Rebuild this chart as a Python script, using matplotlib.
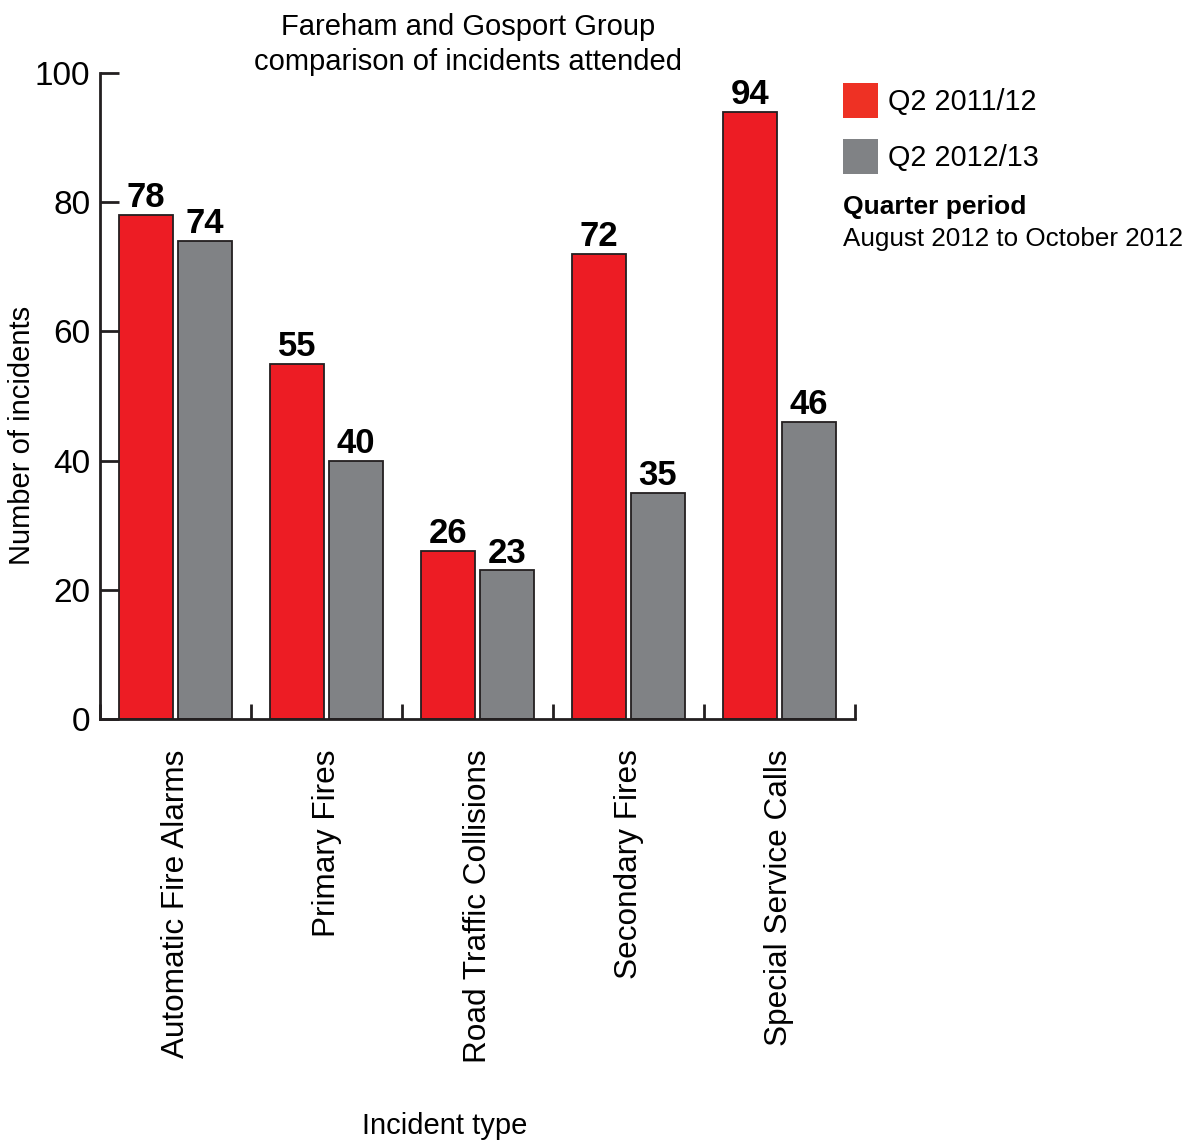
import matplotlib.pyplot as plt
import numpy as np
from matplotlib.patches import Patch

plt.rcParams['font.family'] = ['Liberation Sans', 'DejaVu Sans']

categories = ["Automatic Fire Alarms", "Primary Fires", "Road Traffic Collisions",
              "Secondary Fires", "Special Service Calls"]
q2_2011 = [78, 55, 26, 72, 94]
q2_2012 = [74, 40, 23, 35, 46]
series_names = ["Q2 2011/12", "Q2 2012/13"]

red = "#ED1C24"
grey = "#808285"
edge = "#231F20"

W, H = 1202, 1144
fig = plt.figure(figsize=(W / 100, H / 100), dpi=100)
ax = fig.add_axes([100 / W, 1 - 719 / H, 755 / W, 646 / H])

x = np.arange(len(categories)) + 0.5
bw = 0.36
off = 0.195
b1 = ax.bar(x - off, q2_2011, bw, color=red, edgecolor=edge, linewidth=1.3)
b2 = ax.bar(x + off, q2_2012, bw, color=grey, edgecolor=edge, linewidth=1.3)

for bars, vals in ((b1, q2_2011), (b2, q2_2012)):
    for b, v in zip(bars, vals):
        ax.text(b.get_x() + b.get_width() / 2, v + 0.1, str(v), ha='center', va='bottom',
                fontsize=25, fontweight='bold')

ax.set_xlim(0, len(categories))
ax.set_ylim(0, 100)
ax.set_yticks(np.arange(0, 101, 20))
ax.set_xticks(np.arange(0, len(categories) + 1))
ax.set_xticklabels([])
ax.set_xticks(x, minor=True)
ax.set_xticklabels(categories, minor=True, rotation=90, fontsize=22.7, va='top')
ax.tick_params(axis='x', which='minor', length=0, pad=22)
ax.tick_params(axis='x', which='major', direction='in', length=11, width=2, color=edge)
ax.tick_params(axis='y', direction='in', length=14, width=2, color=edge, labelsize=24, pad=7)

for s in ('top', 'right'):
    ax.spines[s].set_visible(False)
for s in ('left', 'bottom'):
    ax.spines[s].set_linewidth(2)
    ax.spines[s].set_color(edge)

fig.text(468 / W, 1 - 27 / H, "Fareham and Gosport Group", ha='center', va='center', fontsize=21)
fig.text(468 / W, 1 - 62 / H, "comparison of incidents attended", ha='center', va='center', fontsize=21)
fig.text(22 / W, 1 - 435 / H, "Number of incidents", rotation=90, ha='center', va='center', fontsize=21)
fig.text(445 / W, 1 - 1126 / H, "Incident type", ha='center', va='center', fontsize=21)

handles = [Patch(facecolor="#EE3124"), Patch(facecolor=grey)]
fig.legend(handles, series_names, loc='upper left', bbox_to_anchor=(843 / W, 1 - 83 / H),
           frameon=False, fontsize=20.7, handlelength=1.22, handleheight=1.5,
           handletextpad=0.35, labelspacing=0.73, borderpad=0, borderaxespad=0)

fig.text(843 / W, 1 - 207 / H, "Quarter period", ha='left', va='center', fontsize=19, fontweight='bold')
fig.text(843 / W, 1 - 239 / H, "August 2012 to October 2012", ha='left', va='center', fontsize=18.7)

fig.savefig("out.png", dpi=100)
